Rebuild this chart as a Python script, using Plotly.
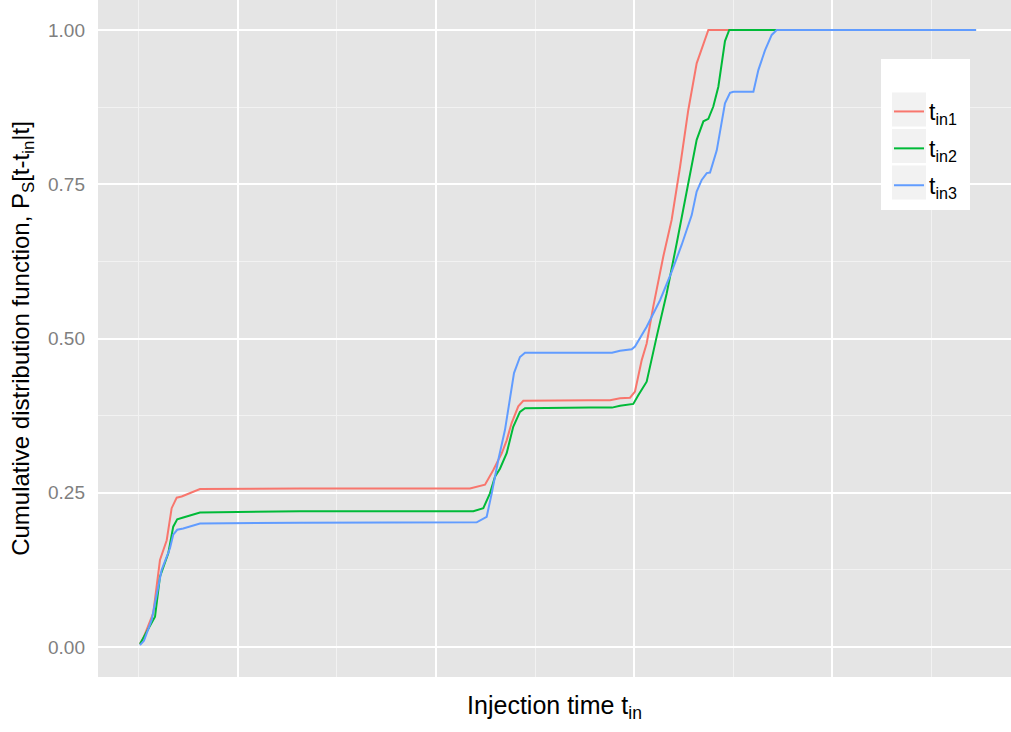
import plotly.graph_objects as go

# ---- data ----
series_names = ["t<sub>in1</sub>", "t<sub>in2</sub>", "t<sub>in3</sub>"]
colors = ["#F8766D", "#00BA38", "#619CFF"]

x_tin1 = [10.1, 10.43, 11.44, 12.12, 12.80, 13.30, 13.81, 14.31, 16.16, 26.26, 43.43, 44.95,
          45.79, 46.64, 47.14, 47.64, 48.31, 48.82, 55.56, 57.58, 58.59, 59.60, 60.10, 60.78,
          61.28, 61.95, 62.96, 63.80, 64.65, 65.48, 66.33, 66.84, 67.51, 94.55]
y_tin1 = [0.005, 0.014, 0.055, 0.141, 0.173, 0.225, 0.242, 0.244, 0.256, 0.257, 0.257, 0.263,
          0.287, 0.314, 0.335, 0.363, 0.390, 0.399, 0.400, 0.400, 0.403, 0.404, 0.414, 0.465,
          0.492, 0.552, 0.633, 0.692, 0.778, 0.870, 0.946, 0.970, 1.0, 1.0]

x_tin2 = [10.1, 11.62, 12.12, 12.96, 13.46, 13.86, 14.47, 16.16, 26.26, 43.77, 44.78, 45.45,
          45.96, 46.46, 47.14, 47.80, 48.48, 48.99, 55.56, 57.78, 58.59, 59.93, 60.43, 61.28,
          62.29, 63.30, 64.31, 65.32, 66.33, 67.01, 67.51, 68.01, 68.52, 69.19, 69.62, 94.55]
y_tin2 = [0.005, 0.049, 0.114, 0.152, 0.195, 0.207, 0.210, 0.218, 0.220, 0.220, 0.225, 0.249,
          0.276, 0.289, 0.314, 0.357, 0.381, 0.387, 0.388, 0.388, 0.391, 0.394, 0.408, 0.430,
          0.503, 0.573, 0.654, 0.741, 0.822, 0.852, 0.856, 0.876, 0.908, 0.982, 1.0, 1.0]

x_tin3 = [10.1, 10.5, 11.28, 12.29, 13.13, 13.46, 13.86, 14.47, 16.16, 26.26, 44.11, 45.12,
          45.63, 46.29, 46.97, 47.47, 47.88, 48.48, 48.99, 55.56, 57.78, 58.59, 59.77, 60.10,
          61.28, 62.63, 63.80, 64.82, 65.83, 66.33, 66.84, 67.35, 67.68, 68.36, 68.86, 69.19,
          69.70, 70.04, 72.06, 72.56, 73.23, 73.91, 74.41, 94.55]
y_tin3 = [0.003, 0.010, 0.044, 0.125, 0.160, 0.182, 0.190, 0.192, 0.200, 0.2015, 0.202, 0.211,
          0.249, 0.303, 0.352, 0.400, 0.444, 0.470, 0.477, 0.477, 0.477, 0.480, 0.4825, 0.487,
          0.519, 0.562, 0.608, 0.652, 0.700, 0.738, 0.757, 0.768, 0.769, 0.805, 0.848, 0.881,
          0.898, 0.900, 0.900, 0.935, 0.967, 0.992, 1.0, 1.0]

y_tick_vals = [0.0, 0.25, 0.5, 0.75, 1.0]
y_tick_text = ["0.00", "0.25", "0.50", "0.75", "1.00"]

xs = [x_tin1, x_tin2, x_tin3]
ys = [y_tin1, y_tin2, y_tin3]

W, H = 1011, 732
ML, MR, MT, MB = 98, 0, 0, 55
PW, PH = W - ML - MR, H - MT - MB


def px_x(px):
    return (px - ML) / PW


def px_y(py):
    return (MT + PH - py) / PH


fig = go.Figure()
for i, (name, c, x, y) in enumerate(zip(series_names, colors, xs, ys)):
    fig.add_trace(go.Scatter(x=x, y=y, mode="lines", name=name, legendgroup=f"g{i}",
                             line=dict(color=c, width=2)))

FONT = "Liberation Sans, Arial, Helvetica, sans-serif"

# legend panel (white box + grey key backgrounds, ggplot style)
shapes = [dict(type="rect", xref="paper", yref="paper",
               x0=px_x(881), x1=px_x(970), y0=px_y(210), y1=px_y(59),
               fillcolor="white", line=dict(width=0), layer="above")]
for top in (92.5, 129, 165.5):
    shapes.append(dict(type="rect", xref="paper", yref="paper",
                       x0=px_x(892), x1=px_x(926), y0=px_y(top + 34), y1=px_y(top),
                       fillcolor="#F2F2F2", line=dict(width=0), layer="above"))

fig.update_layout(
    width=W, height=H,
    margin=dict(l=ML, r=MR, t=MT, b=MB),
    paper_bgcolor="white",
    plot_bgcolor="#E5E5E5",
    font=dict(family=FONT, color="black"),
    showlegend=True,
    shapes=shapes,
    legend=dict(
        x=px_x(889), xanchor="left", y=px_y(90), yanchor="top",
        bgcolor="rgba(0,0,0,0)", borderwidth=0,
        font=dict(size=23, color="black", family=FONT),
        itemwidth=30,
        tracegroupgap=4,
    ),
    xaxis=dict(
        range=[5.86, 98.08],
        tick0=0, dtick=20,
        showticklabels=False, ticks="",
        showgrid=True, gridcolor="white", gridwidth=2,
        minor=dict(tick0=0, dtick=10, showgrid=True, gridcolor="#F2F2F2", gridwidth=1),
        zeroline=False, showline=False,
        title=dict(text="Injection time t<sub>in</sub>", font=dict(size=25, color="black"),
                   standoff=19),
        automargin=False,
    ),
    yaxis=dict(
        range=[-0.0486, 1.0486],
        tickmode="array", tickvals=y_tick_vals, ticktext=y_tick_text,
        tickfont=dict(size=19, color="#7F7F7F"),
        ticks="", ticklabelstandoff=12,
        showgrid=True, gridcolor="white", gridwidth=2,
        minor=dict(tick0=0.125, dtick=0.25, showgrid=True, gridcolor="#F2F2F2", gridwidth=1),
        zeroline=False, showline=False,
        title=dict(text="Cumulative distribution function, P<sub>S</sub>[t-t<sub>in</sub>|t]",
                   font=dict(size=24, color="black"), standoff=11),
        automargin=False,
    ),
)

fig.write_html("out.html",
               config={"displayModeBar": False},
               post_script="document.body.style.margin='0';document.body.style.overflow='hidden';")
